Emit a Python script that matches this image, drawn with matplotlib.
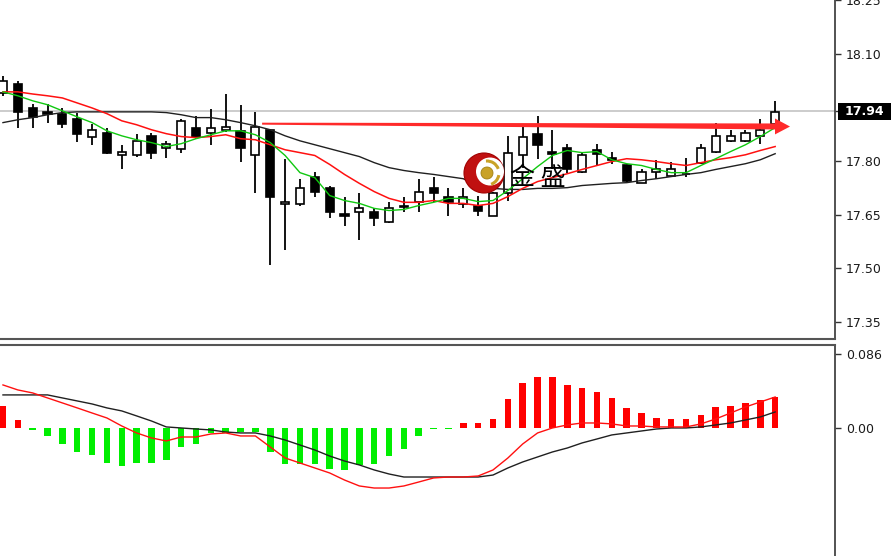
import numpy as np
import matplotlib
matplotlib.use('Agg')
import matplotlib.pyplot as plt
from matplotlib.patches import Circle, Arc, Rectangle, Polygon
from matplotlib.transforms import blended_transform_factory

# Candles (OHLC)
opens = [17.991, 18.016, 17.949, 17.938, 17.933, 17.919, 17.869, 17.880, 17.816, 17.816,
         17.871, 17.838, 17.835, 17.894, 17.880, 17.888, 17.885, 17.818, 17.888, 17.679,
         17.679, 17.757, 17.726, 17.651, 17.657, 17.657, 17.629, 17.676, 17.687, 17.726,
         17.699, 17.679, 17.676, 17.648, 17.712, 17.816, 17.877, 17.827, 17.838, 17.771,
         17.830, 17.810, 17.788, 17.740, 17.771, 17.760, 17.763, 17.796, 17.827, 17.857,
         17.857, 17.871, 17.905]
highs = [18.039, 18.025, 17.961, 17.961, 17.949, 17.936, 17.905, 17.894, 17.844, 17.877,
         17.880, 17.857, 17.919, 17.927, 17.947, 17.988, 17.958, 17.938, 17.891, 17.807,
         17.749, 17.771, 17.732, 17.699, 17.710, 17.668, 17.687, 17.699, 17.749, 17.757,
         17.726, 17.726, 17.704, 17.715, 17.871, 17.899, 17.927, 17.888, 17.849, 17.827,
         17.849, 17.827, 17.793, 17.777, 17.802, 17.799, 17.810, 17.849, 17.908, 17.888,
         17.888, 17.919, 17.969]
lows = [17.983, 17.894, 17.894, 17.908, 17.894, 17.855, 17.846, 17.821, 17.777, 17.813,
        17.807, 17.810, 17.824, 17.863, 17.846, 17.883, 17.799, 17.710, 17.509, 17.551,
        17.676, 17.699, 17.640, 17.618, 17.579, 17.618, 17.626, 17.657, 17.657, 17.685,
        17.648, 17.668, 17.648, 17.646, 17.690, 17.782, 17.807, 17.779, 17.768, 17.768,
        17.788, 17.793, 17.743, 17.738, 17.749, 17.757, 17.757, 17.793, 17.824, 17.855,
        17.855, 17.849, 17.902]
closes = [18.025, 17.938, 17.924, 17.933, 17.905, 17.877, 17.888, 17.824, 17.827, 17.857,
          17.824, 17.849, 17.913, 17.869, 17.894, 17.896, 17.838, 17.896, 17.699, 17.687,
          17.726, 17.715, 17.657, 17.646, 17.668, 17.640, 17.668, 17.673, 17.715, 17.710,
          17.685, 17.699, 17.660, 17.710, 17.824, 17.869, 17.844, 17.821, 17.779, 17.816,
          17.821, 17.804, 17.746, 17.771, 17.779, 17.779, 17.765, 17.838, 17.871, 17.871,
          17.880, 17.888, 17.938]

# moving averages (green = fast, red = mid, black = slow)
ma_fast = [17.994, 17.983, 17.969, 17.958, 17.941, 17.924, 17.908, 17.885, 17.871, 17.860,
           17.852, 17.841, 17.849, 17.863, 17.874, 17.885, 17.885, 17.874, 17.852, 17.816,
           17.768, 17.754, 17.704, 17.690, 17.682, 17.668, 17.662, 17.665, 17.676, 17.685,
           17.696, 17.696, 17.687, 17.690, 17.718, 17.751, 17.785, 17.816, 17.830, 17.824,
           17.827, 17.804, 17.793, 17.788, 17.777, 17.768, 17.768, 17.788, 17.807, 17.827,
           17.846, 17.869, 17.894]
ma_mid = [17.994, 17.994, 17.988, 17.983, 17.977, 17.963, 17.949, 17.933, 17.913, 17.902,
          17.888, 17.877, 17.869, 17.866, 17.869, 17.874, 17.863, 17.860, 17.846, 17.832,
          17.824, 17.816, 17.791, 17.763, 17.738, 17.715, 17.696, 17.685, 17.685, 17.690,
          17.682, 17.682, 17.676, 17.682, 17.701, 17.724, 17.743, 17.754, 17.765, 17.777,
          17.788, 17.799, 17.807, 17.804, 17.799, 17.793, 17.788, 17.796, 17.804, 17.810,
          17.818, 17.830, 17.841]
ma_slow = [17.908, 17.916, 17.922, 17.930, 17.936, 17.938, 17.938, 17.938, 17.938, 17.938,
           17.938, 17.936, 17.930, 17.922, 17.922, 17.916, 17.908, 17.899, 17.888, 17.871,
           17.857, 17.846, 17.835, 17.824, 17.813, 17.796, 17.782, 17.774, 17.768, 17.763,
           17.757, 17.751, 17.729, 17.724, 17.721, 17.721, 17.724, 17.724, 17.726, 17.732,
           17.735, 17.738, 17.740, 17.746, 17.751, 17.757, 17.763, 17.768, 17.777, 17.785,
           17.793, 17.804, 17.821]

# MACD panel
hist = [0.0256, 0.0093, -0.0023, -0.0093, -0.0186, -0.0275, -0.0314, -0.0403, -0.0442, -0.0403,
        -0.0403, -0.0372, -0.0225, -0.0186, -0.0062, -0.0054, -0.0043, -0.0043, -0.0275, -0.0420,
        -0.0420, -0.0420, -0.0480, -0.0490, -0.0430, -0.0420, -0.0330, -0.0240, -0.0090, -0.0015,
        -0.0015, 0.0060, 0.0060, 0.0100, 0.0333, 0.0520, 0.0590, 0.0590, 0.0500, 0.0460,
        0.0420, 0.0350, 0.0230, 0.0170, 0.0120, 0.0100, 0.0100, 0.0150, 0.0240, 0.0260,
        0.0290, 0.0320, 0.0360]
macd_red = [0.0500, 0.0442, 0.0407, 0.0349, 0.0291, 0.0233, 0.0174, 0.0116, 0.0023, -0.0058,
            -0.0116, -0.0151, -0.0105, -0.0105, -0.0070, -0.0058, -0.0093, -0.0093, -0.0221, -0.0349,
            -0.0407, -0.0465, -0.0523, -0.0605, -0.0674, -0.0698, -0.0698, -0.0674, -0.0628, -0.0581,
            -0.0570, -0.0570, -0.0558, -0.0488, -0.0349, -0.0186, -0.0058, 0.0000, 0.0035, 0.0058,
            0.0058, 0.0047, 0.0023, 0.0023, 0.0012, 0.0012, 0.0012, 0.0047, 0.0105, 0.0174,
            0.0244, 0.0302, 0.0360]
macd_black = [0.0384, 0.0384, 0.0384, 0.0384, 0.0349, 0.0314, 0.0279, 0.0233, 0.0198, 0.0140,
              0.0081, 0.0012, 0.0000, -0.0012, -0.0023, -0.0047, -0.0058, -0.0058, -0.0093, -0.0140,
              -0.0198, -0.0256, -0.0326, -0.0384, -0.0430, -0.0488, -0.0535, -0.0570, -0.0570, -0.0570,
              -0.0570, -0.0570, -0.0570, -0.0547, -0.0465, -0.0395, -0.0337, -0.0279, -0.0233, -0.0174,
              -0.0128, -0.0081, -0.0058, -0.0035, -0.0012, 0.0000, 0.0000, 0.0012, 0.0035, 0.0058,
              0.0093, 0.0128, 0.0186]

price_ticks = [17.35, 17.50, 17.65, 17.80, 18.10, 18.25]
last_price = 17.94
arrow_start = (17.45, 17.905)
arrow_end = (53.0, 17.897)

W, H = 891, 556
fig = plt.figure(figsize=(W / 100, H / 100), dpi=100)
fig.patch.set_facecolor('white')

right = 835 / W
ax = fig.add_axes([0, (H - 338.5) / H, right, 338.5 / H])
ax2 = fig.add_axes([0, 0, right, (H - 344.5) / H])

x = np.arange(len(opens))

# --- upper panel: candles
ax.axhline(last_price, color='#c4c4c4', lw=1.2, zorder=1)
ax.vlines(x, lows, highs, color='black', lw=1.3, zorder=2)
o = np.array(opens)
c = np.array(closes)
face = ['white' if cc > oo else 'black' for oo, cc in zip(o, c)]
ax.bar(x, np.abs(c - o), bottom=np.minimum(o, c), width=0.55,
       color=face, edgecolor='black', lw=1.2, zorder=3)

ax.plot(x, ma_slow, color='#202020', lw=1.0, zorder=4)
ax.plot(x, ma_mid, color='#ff1010', lw=1.1, zorder=4)
ax.plot(x, ma_fast, color='#10c810', lw=1.0, zorder=4)

# red arrow (tapered shaft + head)
px_x = 1 / 14.85
px_y = 1 / 358.7
x0, y0 = arrow_start
x1, y1 = arrow_end
hb = x1 - 15 * px_x
yb = y0 + (y1 - y0) * (hb - x0) / (x1 - x0)
arrow = Polygon([(x0, y0 + 1.0 * px_y), (hb, yb + 3.0 * px_y), (hb, yb + 8 * px_y),
                 (x1, y1), (hb, yb - 8 * px_y), (hb, yb - 3.0 * px_y),
                 (x0, y0 - 1.0 * px_y)], closed=True, facecolor='#ff2a2a',
                edgecolor='none', zorder=5)
ax.add_patch(arrow)

ax.set_xlim(-0.2, 56.03)
ax.set_ylim(17.304, 18.251)

# --- lower panel: MACD
hcol = ['#ff0000' if v > 0 else '#00ee00' for v in hist]
ax2.bar(x, hist, width=0.44, color=hcol, zorder=2)
ax2.plot(x, macd_black, color='#202020', lw=1.0, zorder=3)
ax2.plot(x, macd_red, color='#ff1010', lw=1.0, zorder=3)
ax2.set_xlim(-0.2, 56.03)
ax2.set_ylim(-0.1488, 0.097)

for a in (ax, ax2):
    a.set_facecolor('white')
    a.set_xticks([])
    a.yaxis.tick_right()
    a.tick_params(axis='y', length=4, width=1, pad=4, colors='#333333',
                  labelsize=9, labelcolor='#1a1a1a')
    a.spines['left'].set_visible(False)
    a.spines['right'].set_color('#444444')
    a.spines['right'].set_linewidth(1.3)

ax.spines['top'].set_visible(False)
ax.spines['bottom'].set_color('#555555')
ax.spines['bottom'].set_linewidth(1.5)
ax2.spines['bottom'].set_visible(False)
ax2.spines['top'].set_color('#555555')
ax2.spines['top'].set_linewidth(1.5)

ax.set_yticks(price_ticks + [last_price])
ax.set_yticklabels(['%.2f' % t for t in price_ticks] + [''])
ax2.set_yticks([0.0, 0.086])
ax2.set_yticklabels(['0.00', '0.086'])

# last price box
bt = blended_transform_factory(ax.transAxes, ax.transData)
ax.add_patch(Rectangle((1.0036, last_price - 8.5 * px_y), 0.08, 17 * px_y,
                       transform=bt, clip_on=False, facecolor='black', zorder=6))
ax.text(1.012, last_price, '17.94', transform=bt, color='white', fontsize=9,
        fontweight='bold', va='center', ha='left', zorder=7, clip_on=False)

# watermark logo
t = fig.dpi_scale_trans
cx, cy = 4.84, (H - 173) / 100
fig.add_artist(Circle((cx, cy), 0.20, transform=t, facecolor='#c01010', edgecolor='#a00000', lw=0.8))
fig.add_artist(Circle((cx + 0.06, cy + 0.015), 0.14, transform=t, facecolor='white', edgecolor='none'))
fig.add_artist(Arc((cx + 0.03, cy), 0.24, 0.24, theta1=-70, theta2=-10, transform=t,
                   color='#c9a227', lw=2.2))
fig.add_artist(Arc((cx + 0.03, cy), 0.24, 0.24, theta1=20, theta2=95, transform=t,
                   color='#c9a227', lw=2.2))
fig.add_artist(Circle((cx + 0.03, cy), 0.06, transform=t, facecolor='#c9a227', edgecolor='#a07f10', lw=0.6))
fig.text(538 / W, 1 - 178 / H, '金 盛', fontsize=18, color='black', ha='center', va='center',
         family=['Noto Sans CJK SC', 'DejaVu Sans'])

fig.savefig('out.png', dpi=100, facecolor='white')
